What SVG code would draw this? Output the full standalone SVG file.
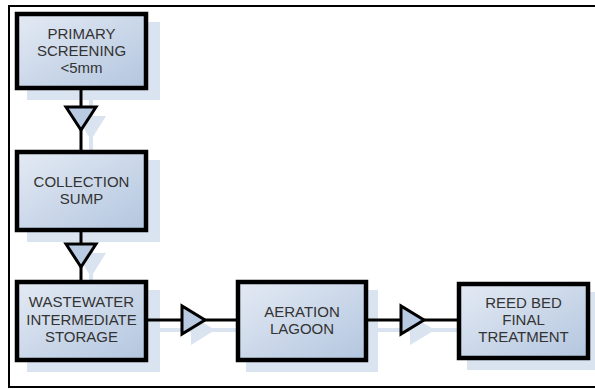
<svg xmlns="http://www.w3.org/2000/svg" width="595" height="389" viewBox="0 0 595 389">
<defs>
<linearGradient id="g" x1="0" y1="0" x2="1" y2="1">
<stop offset="0" stop-color="#e4eaf4"/>
<stop offset="1" stop-color="#b3c6df"/>
</linearGradient>
<style>
.box{fill:url(#g);stroke:#000;stroke-width:4.5}
.sh{fill:#dae3f0;stroke:none}
.shl{stroke:#dae3f0;stroke-width:4;fill:none}
.txt{font-family:"Liberation Sans",Arial,sans-serif;font-size:15px;fill:#333;text-anchor:middle}
.ln{stroke:#000;stroke-width:3;fill:none}
.tri{fill:#b8cbe3;stroke:#000;stroke-width:3;stroke-linejoin:miter}
.trs{fill:#dae3f0;stroke:none}
</style>
</defs>
<rect width="595" height="389" fill="#fff"/>
<path d="M595,6 H9 V387 H595" fill="none" stroke="#000" stroke-width="2"/>
<g id="shadows">
<rect class="sh" x="27" y="22" width="133" height="78"/>
<rect class="sh" x="27" y="160" width="133" height="82"/>
<rect class="sh" x="27" y="290" width="133" height="82"/>
<rect class="sh" x="246" y="290" width="132" height="82"/>
<rect class="sh" x="467" y="292" width="128" height="78"/>
<path class="shl" d="M91,100 V160 M91,242 V290 M158,330 H246 M378,330 H467"/>
<polygon class="trs" points="76,116 106,116 91,140"/>
<polygon class="trs" points="76,253 106,253 91,277"/>
<polygon class="trs" points="191,315 191,345 215,330"/>
<polygon class="trs" points="410,315 410,345 435,330"/>
</g>
<g id="connectors">
<path class="ln" d="M81,90 V150 M81,232 V280 M148,320 H236 M368,320 H457"/>
<polygon class="tri" points="66,107 96,107 81,130"/>
<polygon class="tri" points="66,244 96,244 81,267"/>
<polygon class="tri" points="182,306 182,334 205,320"/>
<polygon class="tri" points="401,306 401,334 424,320"/>
</g>
<g id="primary-screening">
<rect class="box" x="17" y="14" width="129" height="74"/>
<text class="txt" x="81.5" y="39">PRIMARY</text>
<text class="txt" x="81.5" y="56">SCREENING</text>
<text class="txt" x="81.5" y="73">&lt;5mm</text>
</g>
<g id="collection-sump">
<rect class="box" x="17" y="152" width="129" height="78"/>
<text class="txt" x="81.5" y="187">COLLECTION</text>
<text class="txt" x="81.5" y="204">SUMP</text>
</g>
<g id="wastewater-storage">
<rect class="box" x="17" y="282" width="129" height="78"/>
<text class="txt" x="81.5" y="307">WASTEWATER</text>
<text class="txt" x="81.5" y="325">INTERMEDIATE</text>
<text class="txt" x="81.5" y="342">STORAGE</text>
</g>
<g id="aeration-lagoon">
<rect class="box" x="238" y="282" width="128" height="78"/>
<text class="txt" x="302" y="317">AERATION</text>
<text class="txt" x="302" y="334">LAGOON</text>
</g>
<g id="reed-bed">
<rect class="box" x="459" y="284" width="129" height="74"/>
<text class="txt" x="523.5" y="308">REED BED</text>
<text class="txt" x="523.5" y="325">FINAL</text>
<text class="txt" x="523.5" y="342">TREATMENT</text>
</g>
</svg>
